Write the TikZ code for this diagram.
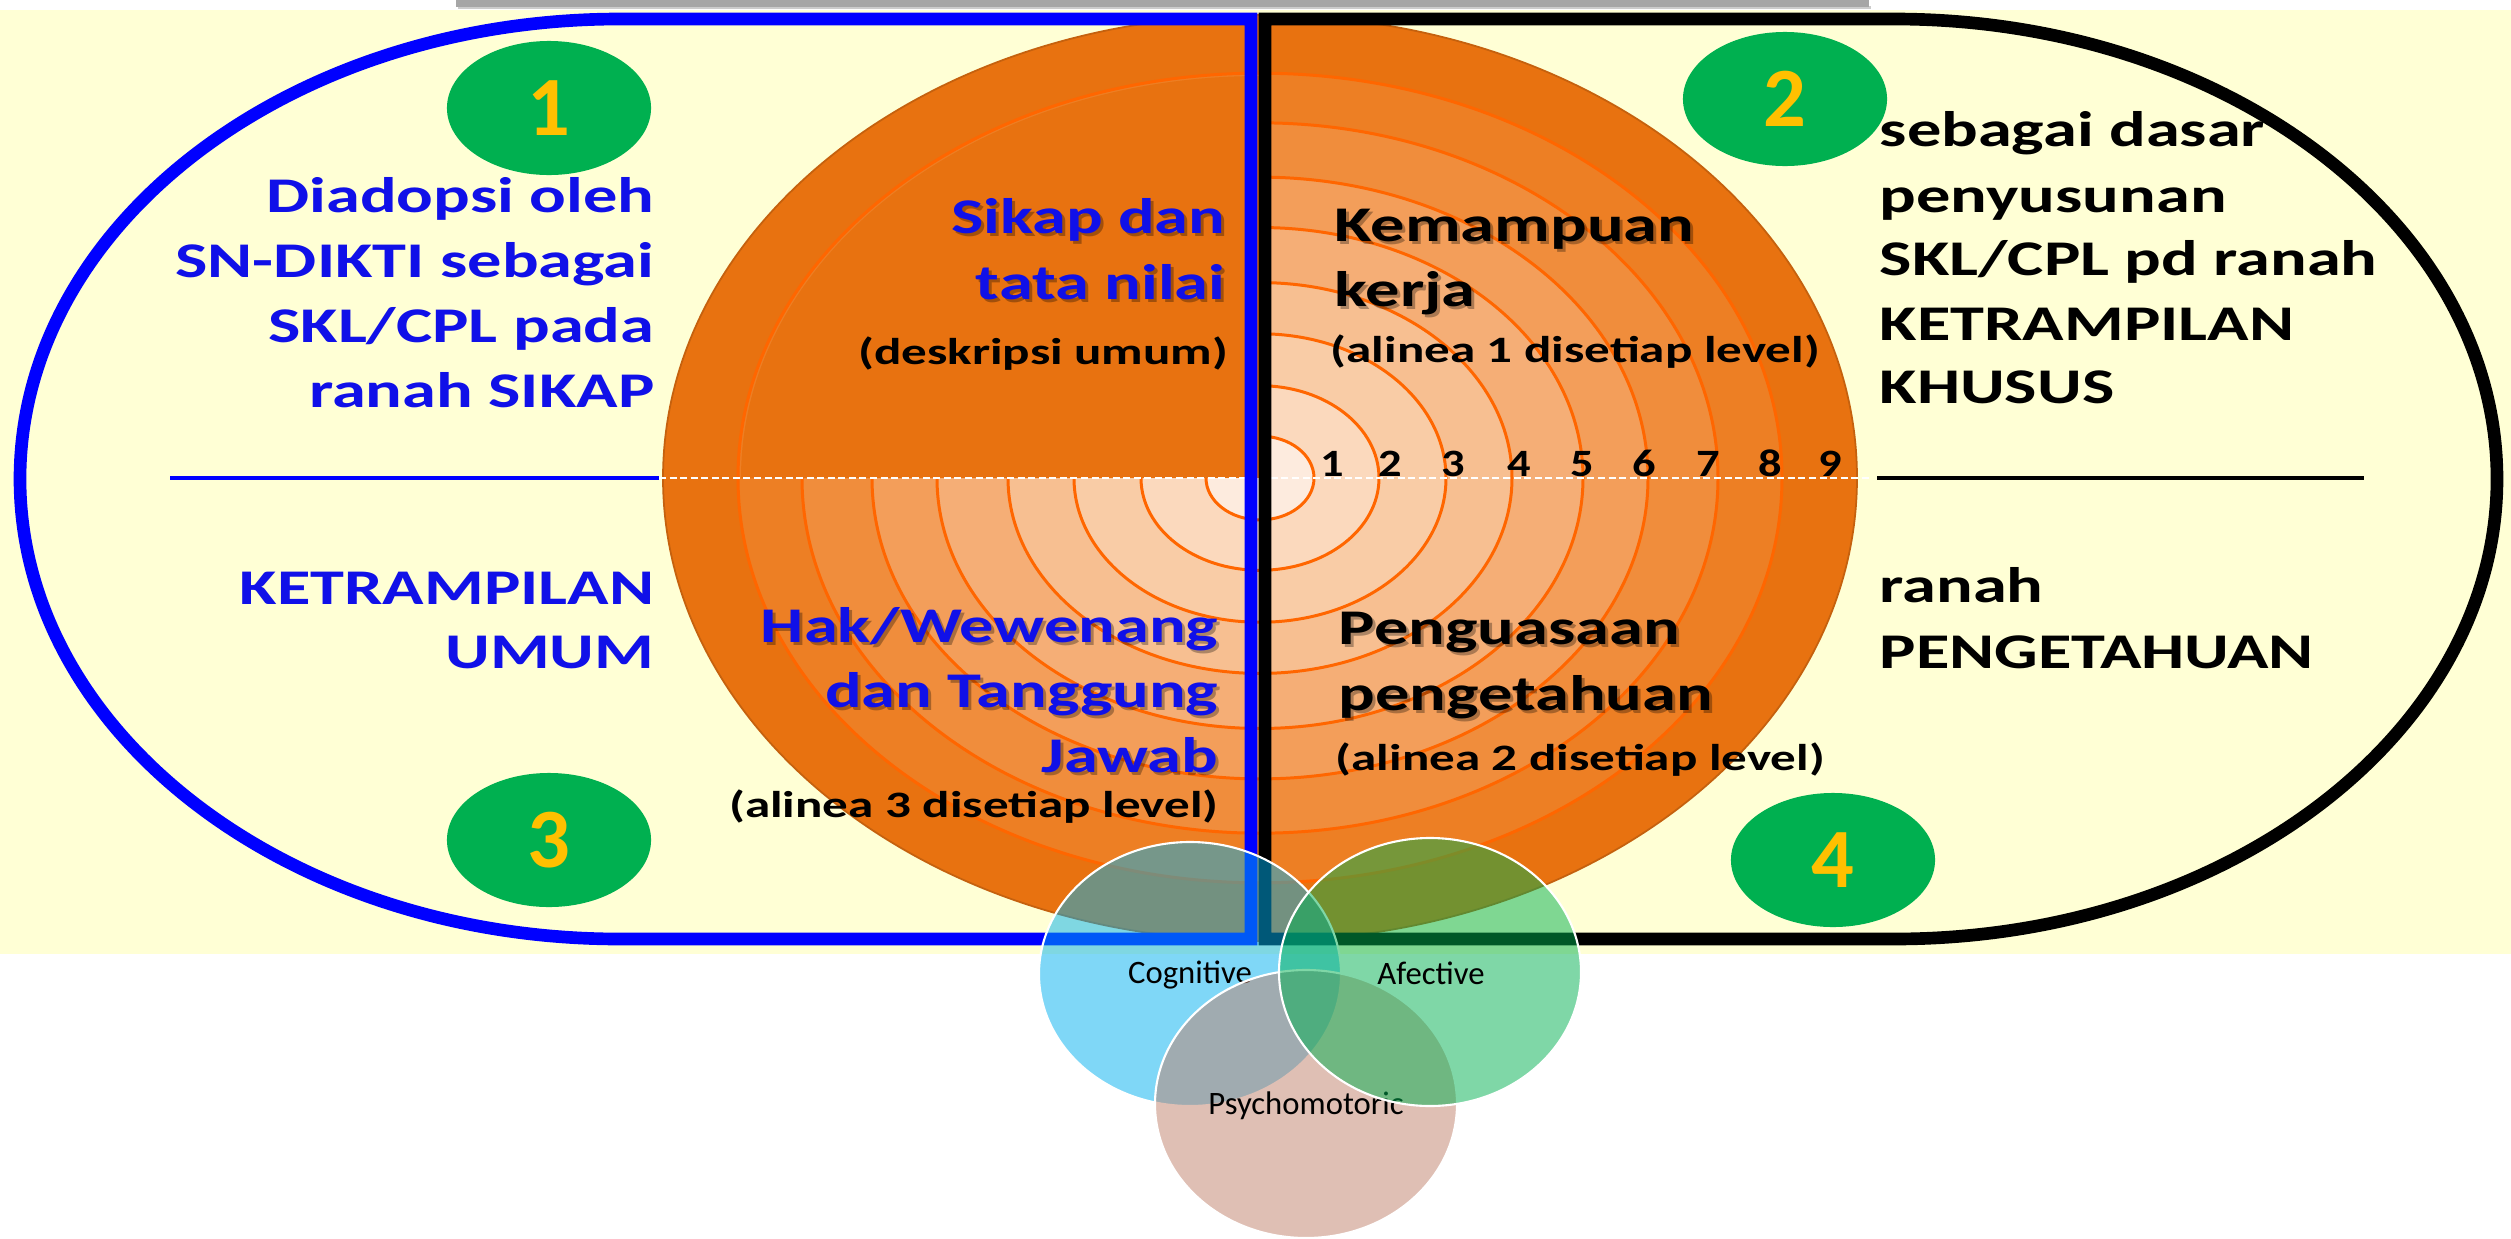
\documentclass[tikz,border=0pt]{standalone}
\usepackage{fontspec}
\setmainfont{Carlito}
\newfontfamily\widefont{Carlito}[FakeStretch=1.37]
\newfontfamily\digitfont{Carlito}[FakeStretch=1.2]
\usetikzlibrary{calc,shapes.geometric}

\definecolor{bgyellow}{RGB}{255,255,213}
\definecolor{bar}{RGB}{166,166,166}
\definecolor{ringline}{RGB}{255,102,0}
\definecolor{o8}{RGB}{232,114,16}
\definecolor{o7}{RGB}{237,127,36}
\definecolor{o6}{RGB}{240,141,60}
\definecolor{o5}{RGB}{243,158,90}
\definecolor{o4}{RGB}{245,174,118}
\definecolor{o3}{RGB}{247,191,145}
\definecolor{o2}{RGB}{249,204,166}
\definecolor{o1}{RGB}{251,217,189}
\definecolor{o0}{RGB}{253,235,222}
\definecolor{numgreen}{RGB}{0,176,80}
\definecolor{numgold}{RGB}{255,192,0}
\definecolor{txtblue}{RGB}{16,16,232}
\definecolor{cogblue}{RGB}{0,176,240}
\definecolor{affgreen}{RGB}{0,176,80}
\definecolor{psyrose}{RGB}{193,129,107}

\tikzset{
  bigtxt/.style={inner sep=0pt, font=\widefont\bfseries\fontsize{14.2pt}{17pt}\selectfont},
  smalltxt/.style={inner sep=0pt, text=black, font=\widefont\bfseries\fontsize{10.6pt}{13pt}\selectfont},
  leveltxt/.style={inner sep=0pt, text=black, font=\digitfont\bfseries\fontsize{11pt}{13pt}\selectfont},
  badge/.style={ellipse, fill=numgreen, minimum width=2.04cm, minimum height=1.34cm, inner sep=0pt,
                text=numgold, font=\bfseries\fontsize{24pt}{26pt}\selectfont},
  vennlbl/.style={inner sep=0pt, text=black, font=\fontsize{9.3pt}{11pt}\selectfont},
  border/.style={line width=3.6pt, line join=miter},
  ringedge/.style={ringline, line width=0.85pt},
}

% a label with a soft drop shadow
\newcommand\shadowlbl[6]{%
  \node[bigtxt, anchor=#2, text=black, opacity=0.3] (#1-shadow) at (#3+3,#4+3) {#6};
  \node[bigtxt, anchor=#2, text=#5] (#1) at (#3,#4) {#6};}

\begin{document}
\begin{tikzpicture}[x=0.01cm, y=-0.01cm]
\useasboundingbox (0,0) rectangle (2511,1239);
\fill[white] (0,0) rectangle (2511,1239);

% page band and the grey bar above it
\fill[bgyellow] (0,10) rectangle (2511,954);
\fill[black!20] (458,6) rectangle (1871,9);
\fill[bar] (456,0) rectangle (1869,7);

% concentric level rings
\coordinate (c) at (1260,478);
\foreach \r/\col in {597/o8, 522/o7, 458/o6, 388/o5, 323/o4, 252/o3, 186/o2, 119/o1, 54/o0}
  \fill[\col] (c) ellipse [x radius=\r, y radius={0.7755*\r}];
\draw[o8!85!black, line width=0.5pt] (c) ellipse [x radius=597, y radius=463];
\foreach \r in {522, 458, 388, 323, 252, 186, 119, 54}
  \draw[ringedge] (c) ellipse [x radius=\r, y radius={0.7755*\r}];
% solid upper-left quarter
\begin{scope}
  \clip (c) ellipse [x radius=519, y radius=402];
  \fill[o8] (700,0) rectangle (1260,478);
\end{scope}

% level axis
\draw[white, line width=0.6pt, dash pattern=on 2pt off 1pt] (659,478) -- (1870,478);
\foreach \n/\x in {1/1332, 2/1390, 3/1453, 4/1519, 5/1582, 6/1644, 7/1708, 8/1770, 9/1830}
  \node[leveltxt, anchor=base] (lv\n) at (\x,476) {\n};

% separators
\draw[blue, line width=1.2pt] (170,478) -- (659,478);
\draw[black, line width=1.4pt] (1877,478) -- (2364,478);

% numbered badges
\node[badge] (b1) at (549,108) {1};
\node[badge] (b2) at (1785,99) {2};
\node[badge] (b3) at (549,840) {3};
\node[badge] (b4) at (1833,860) {4};

% left texts
\begin{scope}[every node/.style={bigtxt, text=txtblue, anchor=base east}]
  \node (l1) at (655,212) {Diadopsi oleh};
  \node (l2) at (655,277) {SN-DIKTI sebagai};
  \node (l3) at (655,342) {SKL/CPL pada};
  \node (l4) at (655,407) {ranah SIKAP};
  \node (l5) at (655,604) {KETRAMPILAN};
  \node (l6) at (655,668) {UMUM};
\end{scope}

% right texts
\begin{scope}[every node/.style={bigtxt, text=black, anchor=base west}]
  \node (r1) at (1879,146) {sebagai dasar};
  \node (r2) at (1879,212) {penyusunan};
  \node (r3) at (1879,275) {SKL/CPL pd ranah};
  \node (r4) at (1879,340) {KETRAMPILAN};
  \node (r5) at (1879,403) {KHUSUS};
  \node (r6) at (1879,602) {ranah};
  \node (r7) at (1879,668) {PENGETAHUAN};
\end{scope}

% quadrant titles
\shadowlbl{q1a}{base east}{1226}{233}{txtblue}{Sikap dan}
\shadowlbl{q1b}{base east}{1226}{299}{txtblue}{tata nilai}
\node[smalltxt, anchor=base east] (q1c) at (1229,364) {(deskripsi umum)};

\shadowlbl{q2a}{base west}{1334}{241}{black}{Kemampuan}
\shadowlbl{q2b}{base west}{1334}{306}{black}{kerja}
\node[smalltxt, anchor=base west] (q2c) at (1330,362) {(alinea 1 disetiap level)};

\shadowlbl{q3a}{base east}{1219}{642}{txtblue}{Hak/Wewenang}
\shadowlbl{q3b}{base east}{1219}{707}{txtblue}{dan Tanggung}
\shadowlbl{q3c}{base east}{1219}{772}{txtblue}{Jawab}
\node[smalltxt, anchor=base east] (q3d) at (1219,817) {(alinea 3 disetiap level)};

\shadowlbl{q4a}{base west}{1338}{644}{black}{Penguasaan}
\shadowlbl{q4b}{base west}{1338}{710}{black}{pengetahuan}
\node[smalltxt, anchor=base west] (q4c) at (1335,770) {(alinea 2 disetiap level)};

% the two half frames
\draw[border, blue] (1251,19) -- (620,19)
  .. controls (289,19) and (20,225) .. (20,479)
  .. controls (20,733) and (289,939) .. (620,939) -- (1251,939) -- cycle;
\draw[border, black] (1265,19) -- (1894,19)
  .. controls (2227,19) and (2497,225) .. (2497,479)
  .. controls (2497,733) and (2227,939) .. (1894,939) -- (1265,939) -- cycle;

% domains
\fill[cogblue, fill opacity=0.5] (1190,974) ellipse [x radius=151, y radius=132];
\draw[white, line width=0.6pt] (1190,974) ellipse [x radius=151, y radius=132];
\node[vennlbl] (cog) at (1190,975) {Cognitive};
\fill[psyrose, fill opacity=0.5] (1306,1104) ellipse [x radius=151, y radius=134];
\draw[white, line width=0.6pt] (1306,1104) ellipse [x radius=151, y radius=134];
\node[vennlbl] (psy) at (1306,1106) {Psychomotoric};
\fill[affgreen, fill opacity=0.5] (1430,972) ellipse [x radius=151, y radius=134];
\draw[white, line width=0.6pt] (1430,972) ellipse [x radius=151, y radius=134];
\node[vennlbl] (aff) at (1431,973) {Afective};
\end{tikzpicture}
\end{document}
